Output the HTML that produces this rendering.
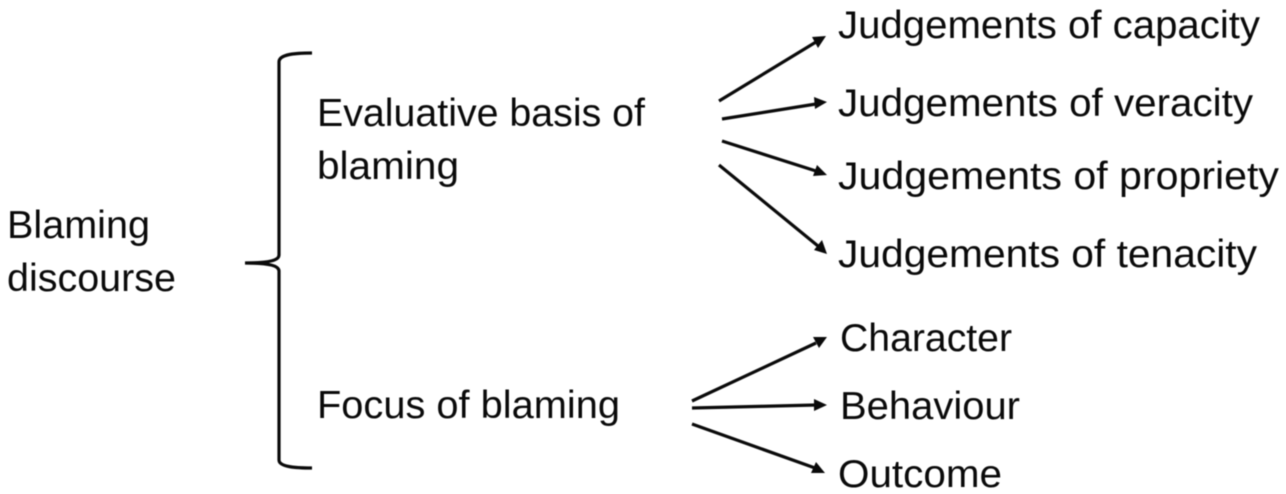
<!DOCTYPE html>
<html><head><meta charset="utf-8"><style>
html,body{margin:0;padding:0;background:#fff;width:1286px;height:494px;overflow:hidden}
svg{display:block;filter:blur(0.4px)}
text{font-family:"Liberation Sans",sans-serif;font-size:39px;fill:#0a0a0a}
</style></head><body>
<svg width="1286" height="494" viewBox="0 0 1286 494" xmlns="http://www.w3.org/2000/svg">
<g>
<text x="7" y="238" textLength="143" lengthAdjust="spacingAndGlyphs">Blaming</text>
<text x="7" y="291" textLength="169" lengthAdjust="spacingAndGlyphs">discourse</text>
<text x="317" y="126" textLength="328" lengthAdjust="spacingAndGlyphs">Evaluative basis of</text>
<text x="317" y="179" textLength="142" lengthAdjust="spacingAndGlyphs">blaming</text>
<text x="317" y="418" textLength="303" lengthAdjust="spacingAndGlyphs">Focus of blaming</text>
<text x="838" y="38" textLength="422" lengthAdjust="spacingAndGlyphs">Judgements of capacity</text>
<text x="838" y="116" textLength="415" lengthAdjust="spacingAndGlyphs">Judgements of veracity</text>
<text x="838" y="189" textLength="441" lengthAdjust="spacingAndGlyphs">Judgements of propriety</text>
<text x="838" y="267" textLength="419" lengthAdjust="spacingAndGlyphs">Judgements of tenacity</text>
<text x="840" y="351" textLength="172" lengthAdjust="spacingAndGlyphs">Character</text>
<text x="840" y="419" textLength="180" lengthAdjust="spacingAndGlyphs">Behaviour</text>
<text x="838" y="487" textLength="164" lengthAdjust="spacingAndGlyphs">Outcome</text>
</g>
<path d="M312 53 C296 53 279 54 279 62 L279 255 C279 260 270 263 245 263 C270 263 279 266 279 271 L279 460 C279 467 296 468 312 468" fill="none" stroke="#0a0a0a" stroke-width="3.2"/>
<g stroke="#0a0a0a" stroke-width="3.2" fill="none">
<line x1="719" y1="101" x2="816" y2="42"/>
<line x1="722" y1="119" x2="816" y2="104"/>
<line x1="722" y1="141" x2="816" y2="171"/>
<line x1="719" y1="165" x2="818" y2="246"/>
<line x1="692" y1="401" x2="816" y2="343"/>
<line x1="692" y1="408" x2="816" y2="405"/>
<line x1="692" y1="424" x2="815" y2="468"/>
</g>
<g fill="#0a0a0a">
<polygon points="826,36 818,48 812,37"/>
<polygon points="827,102 815,109 814,97"/>
<polygon points="827,175 813,176 817,165"/>
<polygon points="827,254 814,250 822,240"/>
<polygon points="827,337 819,348 813,337"/>
<polygon points="827,405 814,411 814,399"/>
<polygon points="825,473 811,473 816,462"/>
</g>
</svg>
</body></html>
